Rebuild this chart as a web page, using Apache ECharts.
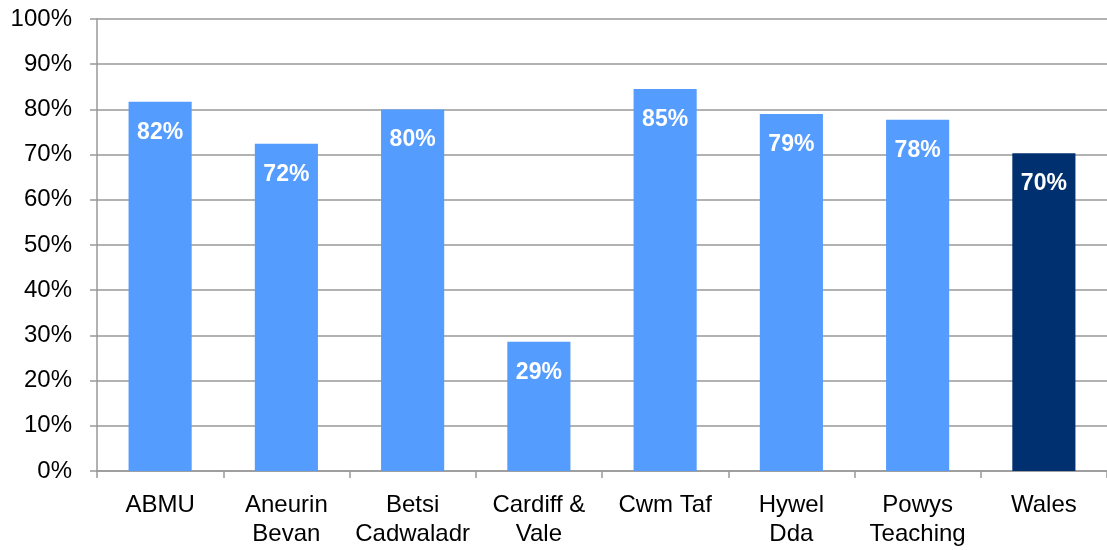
<!DOCTYPE html>
<html><head><meta charset="utf-8">
<script src="https://cdn.jsdelivr.net/npm/echarts@6/dist/echarts.min.js"></script>
<style>html,body{margin:0;padding:0;background:#fff}#c{width:1107px;height:550px}</style>
</head><body><div id="c"></div>
<script>
const categories = ['ABMU', 'Aneurin\nBevan', 'Betsi\nCadwaladr', 'Cardiff &\nVale', 'Cwm Taf', 'Hywel\nDda', 'Powys\nTeaching', 'Wales'];
const values = [81.7, 72.4, 80.0, 28.6, 84.5, 79.0, 77.7, 70.3];
const barColors = ['#559CFF', '#559CFF', '#559CFF', '#559CFF', '#559CFF', '#559CFF', '#559CFF', '#003070'];
const yTicks = [0, 10, 20, 30, 40, 50, 60, 70, 80, 90, 100];

const chart = echarts.init(document.getElementById('c'));
chart.setOption({
  animation: false,
  grid: { left: 97, top: 19, width: 1019, height: 452, containLabel: false },
  xAxis: {
    type: 'category', data: categories,
    axisLine: { lineStyle: { color: '#999', width: 1.5 } },
    axisTick: { show: true, length: 7, lineStyle: { color: '#999', width: 1.5 } },
    axisLabel: { color: '#000', fontFamily: 'Liberation Sans, Arial', fontSize: 24, lineHeight: 29, margin: 20, interval: 0 }
  },
  yAxis: {
    type: 'value', min: 0, max: 100, interval: 10,
    axisLine: { show: true, lineStyle: { color: '#999', width: 1.5 } },
    axisTick: { show: true, length: 7, lineStyle: { color: '#999', width: 1.5 } },
    splitLine: { lineStyle: { color: '#999', width: 1.5 } },
    axisLabel: { color: '#000', fontFamily: 'Liberation Sans, Arial', fontSize: 24, margin: 25,
      formatter: v => yTicks.includes(v) ? v + '%' : '' }
  },
  series: [{
    type: 'bar', barWidth: '50%',
    data: values.map((v, i) => ({ value: v, itemStyle: { color: barColors[i] } })),
    label: { show: true, position: 'insideTop', distance: 19, color: '#fff', fontWeight: 'bold',
      fontFamily: 'Liberation Sans, Arial', fontSize: 23, formatter: p => Math.round(p.value) + '%' }
  }]
});
</script></body></html>
